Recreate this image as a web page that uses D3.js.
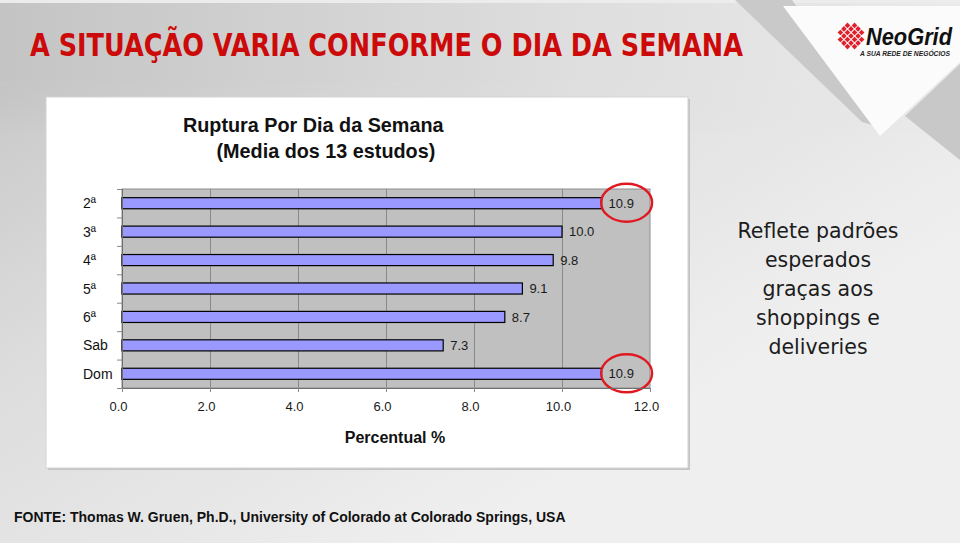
<!DOCTYPE html>
<html>
<head>
<meta charset="utf-8">
<script src="https://cdn.jsdelivr.net/npm/d3@7"></script>
<style>
  html, body { margin: 0; padding: 0; background: #e0e0e0; }
  svg { display: block; }
</style>
</head>
<body>
<svg id="chart" width="960" height="543"></svg>
<script>
// ---- data ----
const days = ["2ª", "3ª", "4ª", "5ª", "6ª", "Sab", "Dom"];
const values = [10.9, 10.0, 9.8, 9.1, 8.7, 7.3, 10.9];
const highlighted = ["2ª", "Dom"];
const xTicks = [0, 2, 4, 6, 8, 10, 12];
const pageTitle = "A SITUAÇÃO VARIA CONFORME O DIA DA SEMANA";
const chartTitle = ["Ruptura Por Dia da Semana", "(Media dos 13 estudos)"];
const xAxisTitle = "Percentual %";
const sideNote = ["Reflete padrões", "esperados", "graças aos", "shoppings e", "deliveries"];
const footer = "FONTE: Thomas W. Gruen, Ph.D., University of Colorado at Colorado Springs, USA";

const svg = d3.select("#chart");
const defs = svg.append("defs");

// ---- background ----
const bg = defs.append("linearGradient").attr("id", "bg")
  .attr("x1", 0).attr("y1", 0).attr("x2", 0.75).attr("y2", 0.7);
bg.append("stop").attr("offset", 0).attr("stop-color", "#c3c3c3");
bg.append("stop").attr("offset", 0.45).attr("stop-color", "#dcdcdc");
bg.append("stop").attr("offset", 1).attr("stop-color", "#efefef");
svg.append("rect").attr("width", 960).attr("height", 543).attr("fill", "url(#bg)");

const topBand = defs.append("linearGradient").attr("id", "topband")
  .attr("x1", 0).attr("y1", 0).attr("x2", 1).attr("y2", 0);
topBand.append("stop").attr("offset", 0).attr("stop-color", "#c4c4c4");
topBand.append("stop").attr("offset", 0.6).attr("stop-color", "#dedede");
topBand.append("stop").attr("offset", 1).attr("stop-color", "#eaeaea");
const fade = defs.append("linearGradient").attr("id", "fade")
  .attr("x1", 0).attr("y1", 0).attr("x2", 0).attr("y2", 1);
fade.append("stop").attr("offset", 0).attr("stop-color", "#fff").attr("stop-opacity", 1);
fade.append("stop").attr("offset", 0.6).attr("stop-color", "#fff").attr("stop-opacity", 1);
fade.append("stop").attr("offset", 1).attr("stop-color", "#fff").attr("stop-opacity", 0);
defs.append("mask").attr("id", "fadeMask").attr("maskContentUnits", "userSpaceOnUse")
  .append("rect").attr("x", 0).attr("y", 3).attr("width", 960).attr("height", 130)
  .attr("fill", "url(#fade)");
svg.append("rect").attr("x", 0).attr("y", 3).attr("width", 960).attr("height", 130)
  .attr("fill", "url(#topband)").attr("mask", "url(#fadeMask)");
svg.append("rect").attr("x", 0).attr("y", 0).attr("width", 960).attr("height", 3)
  .attr("fill", "#ececec");

// decorative shapes top right
svg.append("polygon").attr("points", "735,0 792,0 882,128 862,122")
  .attr("fill", "#c9c9c9");
svg.append("polygon").attr("points", "783,6 960,6 960,62 880,136")
  .attr("fill", "#fbfbfb");
svg.append("polygon").attr("points", "905,116 960,64 960,160")
  .attr("fill", "#c8c8c8");

// ---- logo ----
const logo = svg.append("g").attr("transform", "translate(851,36)");
const cells = [];
for (let i = -2; i <= 2; i++) for (let j = -2; j <= 2; j++) {
  if (Math.abs(i) + Math.abs(j) <= 3) cells.push([i, j]);
}
logo.selectAll("rect").data(cells).join("rect")
  .attr("x", d => d[0] * 5 - 2).attr("y", d => d[1] * 5 - 2)
  .attr("width", 4).attr("height", 4)
  .attr("transform", "rotate(45)")
  .attr("fill", "#e0202a");
svg.append("text").attr("x", 866).attr("y", 45)
  .attr("font-family", "Liberation Sans, Arial, sans-serif")
  .attr("font-weight", "bold").attr("font-style", "italic")
  .attr("font-size", 23).attr("fill", "#111")
  .attr("textLength", 86).attr("lengthAdjust", "spacingAndGlyphs")
  .text("NeoGrid");
svg.append("text").attr("x", 860).attr("y", 56)
  .attr("font-family", "Liberation Sans, Arial, sans-serif")
  .attr("font-weight", "bold").attr("font-style", "italic")
  .attr("font-size", 7.5).attr("fill", "#222")
  .attr("textLength", 90).attr("lengthAdjust", "spacingAndGlyphs")
  .text("A SUA REDE DE NEGÓCIOS");

// ---- page title ----
svg.append("text").attr("x", 30).attr("y", 56)
  .attr("font-family", "DejaVu Sans Condensed, DejaVu Sans, sans-serif")
  .attr("font-weight", "bold").attr("font-size", 31.5)
  .attr("fill", "#cc0a0a")
  .attr("textLength", 713).attr("lengthAdjust", "spacingAndGlyphs")
  .text(pageTitle);

// ---- chart box ----
svg.append("rect").attr("x", 48).attr("y", 99).attr("width", 642).attr("height", 371)
  .attr("fill", "#c4c4c4");
svg.append("rect").attr("x", 46).attr("y", 97).attr("width", 642).attr("height", 371)
  .attr("fill", "#ffffff").attr("stroke", "#d4d4d4").attr("stroke-width", 1);

// chart title
svg.append("text").attr("x", 183).attr("y", 131.5)
  .attr("font-family", "Liberation Sans, Arial, sans-serif")
  .attr("font-weight", "bold").attr("font-size", 19.8).attr("fill", "#111")
  .text(chartTitle[0]);
svg.append("text").attr("x", 216.5).attr("y", 157.5)
  .attr("font-family", "Liberation Sans, Arial, sans-serif")
  .attr("font-weight", "bold").attr("font-size", 19.8).attr("fill", "#111")
  .text(chartTitle[1]);

// ---- scales ----
const x = d3.scaleLinear().domain([0, 12]).range([122, 650]);
const y = d3.scaleBand().domain(days).range([189, 388])
  .paddingInner(0.61).paddingOuter(0.305);

const plotX0 = x.range()[0], plotX1 = x.range()[1];
const plotY0 = y.range()[0], plotY1 = y.range()[1];

// plot area
svg.append("rect").attr("x", plotX0).attr("y", plotY0)
  .attr("width", plotX1 - plotX0).attr("height", plotY1 - plotY0)
  .attr("fill", "#c0c0c0").attr("stroke", "#8e8e8e").attr("stroke-width", 1);

// gridlines
svg.append("g").selectAll("line").data(xTicks.filter(t => t > 0 && t < 12)).join("line")
  .attr("x1", d => x(d) + 0.5).attr("x2", d => x(d) + 0.5)
  .attr("y1", plotY0).attr("y2", plotY1)
  .attr("stroke", "#8a8a8a").attr("stroke-width", 1);

// bars
svg.append("g").selectAll("rect").data(days).join("rect")
  .attr("x", x(0)).attr("y", d => y(d))
  .attr("width", (d, i) => x(values[i]) - x(0))
  .attr("height", y.bandwidth())
  .attr("fill", "#9999ff").attr("stroke", "#000").attr("stroke-width", 1.2);

// value labels
svg.append("g").selectAll("text").data(days).join("text")
  .attr("x", (d, i) => x(values[i]) + 7)
  .attr("y", d => y(d) + y.bandwidth() / 2)
  .attr("dy", "0.36em")
  .attr("font-family", "Liberation Sans, Arial, sans-serif")
  .attr("font-size", 13).attr("fill", "#1a1a1a")
  .text((d, i) => values[i].toFixed(1));

// highlight ellipses
svg.append("g").selectAll("ellipse").data(highlighted).join("ellipse")
  .attr("cx", d => x(values[days.indexOf(d)]) + 25)
  .attr("cy", d => y(d) + y.bandwidth() / 2 - 0.5)
  .attr("rx", 25.5).attr("ry", 19)
  .attr("fill", "none").attr("stroke", "#e01820").attr("stroke-width", 2.4);

// y axis
const yAxisG = svg.append("g");
yAxisG.append("line").attr("x1", plotX0 + 0.5).attr("x2", plotX0 + 0.5)
  .attr("y1", plotY0).attr("y2", plotY1).attr("stroke", "#6e6e6e");
yAxisG.selectAll("line.tick").data(d3.range(days.length + 1)).join("line")
  .attr("class", "tick")
  .attr("x1", plotX0 - 5).attr("x2", plotX0)
  .attr("y1", i => plotY0 + i * y.step() + 0.5).attr("y2", i => plotY0 + i * y.step() + 0.5)
  .attr("stroke", "#8a8a8a");
yAxisG.selectAll("text").data(days).join("text")
  .attr("x", 83)
  .attr("y", d => y(d) + y.bandwidth() / 2)
  .attr("dy", "0.36em")
  .attr("font-family", "Liberation Sans, Arial, sans-serif")
  .attr("font-size", 14).attr("fill", "#111")
  .text(d => d);

// x axis
const xAxis = d3.axisBottom(x).tickValues(xTicks).tickFormat(d3.format(".1f"))
  .tickSize(4).tickPadding(10);
const xg = svg.append("g").attr("transform", `translate(0,${plotY1})`).call(xAxis);
xg.select(".domain").attr("stroke", "#6e6e6e");
xg.selectAll(".tick line").attr("stroke", "#8a8a8a");
xg.selectAll(".tick text")
  .attr("font-family", "Liberation Sans, Arial, sans-serif")
  .attr("font-size", 13).attr("fill", "#1a1a1a").attr("dx", -4);

svg.append("text").attr("x", 395).attr("y", 443)
  .attr("text-anchor", "middle")
  .attr("font-family", "Liberation Sans, Arial, sans-serif")
  .attr("font-weight", "bold").attr("font-size", 16).attr("fill", "#111")
  .text(xAxisTitle);

// ---- side note ----
svg.append("g").selectAll("text").data(sideNote).join("text")
  .attr("x", 818).attr("y", (d, i) => 238.3 + i * 28.8)
  .attr("text-anchor", "middle")
  .attr("font-family", "DejaVu Sans, sans-serif")
  .attr("font-size", 20.5).attr("fill", "#1c1c1c")
  .text(d => d);

// ---- footer ----
svg.append("text").attr("x", 14).attr("y", 522)
  .attr("font-family", "Liberation Sans, Arial, sans-serif")
  .attr("font-weight", "bold").attr("font-size", 14).attr("fill", "#111")
  .text(footer);
</script>
</body>
</html>
